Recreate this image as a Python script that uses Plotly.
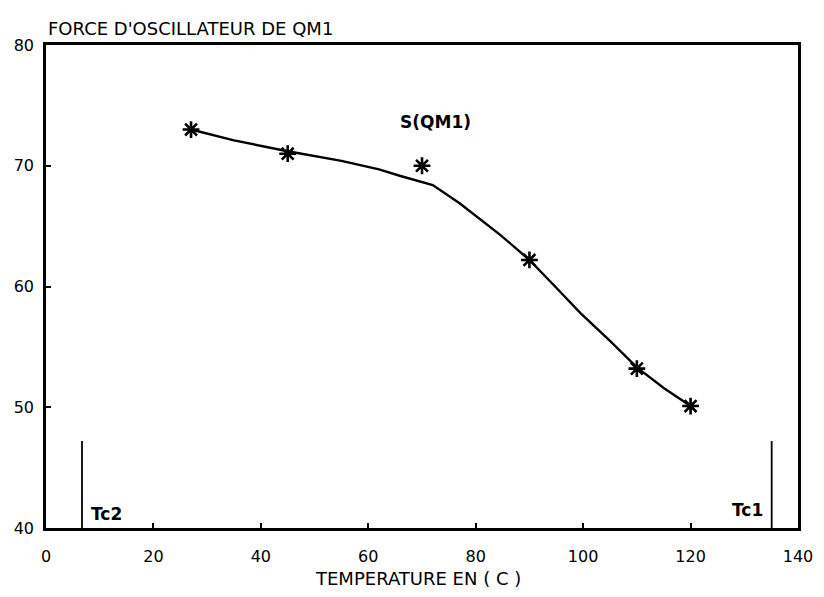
import plotly.graph_objects as go

# Measured oscillator strength of QM1 versus temperature
temps = [27, 45, 70, 90, 110, 120]
strength = [73.0, 71.0, 70.0, 62.2, 53.2, 50.1]

# Smoothed trend curve drawn through the measurements
curve_t = [27, 35, 45, 55, 62, 66, 72, 77, 84.5, 90, 95, 99.5, 105, 110, 115, 120]
curve_s = [73.0, 72.1, 71.2, 70.4, 69.7, 69.15, 68.4, 66.9, 64.3, 62.2, 59.9, 57.8, 55.5, 53.3, 51.6, 50.1]

# Critical temperatures marked by vertical bars
tc_names = ["Tc2", "Tc1"]
tc_temps = [6.7, 135.1]
tc_top = 47.2

x_ticks = [0, 20, 40, 60, 80, 100, 120, 140]
y_ticks = [40, 50, 60, 70, 80]

FONT = "DejaVu Sans, Liberation Sans, Arial, sans-serif"

fig = go.Figure()

fig.add_trace(go.Scatter(
    x=curve_t, y=curve_s, mode="lines",
    line=dict(color="black", width=2.4),
    hoverinfo="skip", showlegend=False,
))

fig.add_trace(go.Scatter(
    x=temps, y=strength, mode="markers",
    marker=dict(symbol="asterisk-open", size=14,
                line=dict(color="black", width=2.6), color="black"),
    showlegend=False,
))

for name, t in zip(tc_names, tc_temps):
    fig.add_trace(go.Scatter(
        x=[t, t], y=[40, tc_top], mode="lines",
        line=dict(color="black", width=1.8),
        hoverinfo="skip", showlegend=False,
    ))

fig.add_annotation(x=tc_temps[0] + 1.3, y=41.2, text="<b>Tc2</b>", showarrow=False,
                   xanchor="left", yanchor="middle",
                   font=dict(family=FONT, size=17, color="black"))
fig.add_annotation(x=tc_temps[1] - 1.3, y=41.5, text="<b>Tc1</b>", showarrow=False,
                   xanchor="right", yanchor="middle",
                   font=dict(family=FONT, size=17, color="black"))

fig.add_annotation(x=72.6, y=73.6, text="<b>S(QM1)</b>", showarrow=False,
                   xanchor="center", yanchor="middle",
                   font=dict(family=FONT, size=17, color="black"))

fig.add_annotation(x=0, y=1, xref="paper", yref="paper", yshift=17,
                   text="FORCE D'OSCILLATEUR DE QM1", showarrow=False,
                   xanchor="left", yanchor="middle",
                   font=dict(family=FONT, size=18, color="black"))

fig.add_annotation(x=0.495, y=0, xref="paper", yref="paper", yshift=-50,
                   text="TEMPERATURE EN ( C )", showarrow=False,
                   xanchor="center", yanchor="middle",
                   font=dict(family=FONT, size=18, color="black"))

fig.update_xaxes(
    range=[0, 140], tickvals=x_ticks, ticktext=[str(v) for v in x_ticks],
    showgrid=False, zeroline=False,
    showline=True, linecolor="black", linewidth=2.5, mirror=True,
    ticks="inside", ticklen=5, tickwidth=1.8, tickcolor="black",
    ticklabelstandoff=12,
    tickfont=dict(family=FONT, size=16, color="black"),
)
fig.update_yaxes(
    range=[40, 80], tickvals=y_ticks, ticktext=[str(v) for v in y_ticks],
    showgrid=False, zeroline=False,
    showline=True, linecolor="black", linewidth=2.5, mirror=True,
    ticks="inside", ticklen=5, tickwidth=1.8, tickcolor="black",
    ticklabelstandoff=6,
    tickfont=dict(family=FONT, size=16, color="black"),
)

fig.update_layout(
    width=824, height=597,
    margin=dict(l=46, r=26, t=45, b=69),
    paper_bgcolor="white", plot_bgcolor="white",
    showlegend=False,
)

fig.write_html("out.html")
